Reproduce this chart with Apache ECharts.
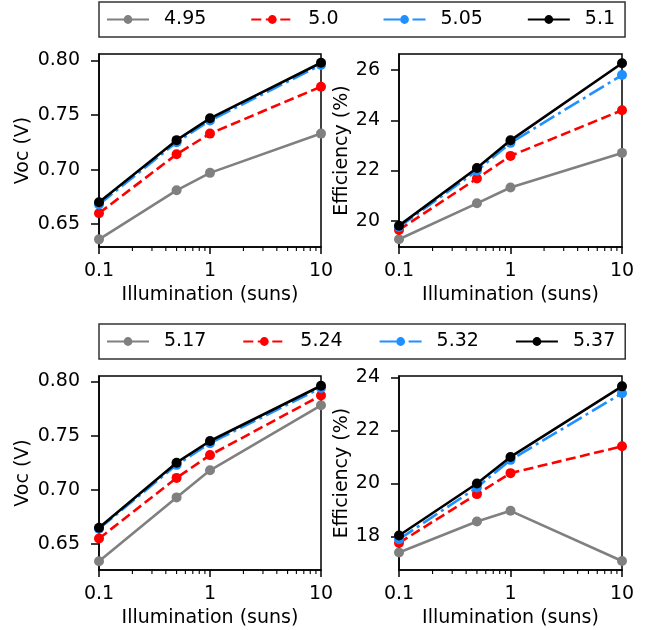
<!DOCTYPE html>
<html>
<head>
<meta charset="utf-8">
<script src="https://cdn.jsdelivr.net/npm/echarts@6/dist/echarts.min.js"></script>
<style>
  html, body { margin: 0; padding: 0; background: #fff; }
  #chart { width: 647px; height: 630px; }
</style>
</head>
<body>
<div id="chart"></div>
<script>
// Illumination levels (suns)
const illumination = [0.1, 0.5, 1, 10];

// Upper group
const topNames = ['4.95', '5.0', '5.05', '5.1'];
const topVoc = [
  [0.636, 0.681, 0.697, 0.733],
  [0.660, 0.714, 0.733, 0.776],
  [0.668, 0.725, 0.745, 0.796],
  [0.670, 0.727, 0.747, 0.798]
];
const topEff = [
  [19.26, 20.69, 21.32, 22.70],
  [19.63, 21.68, 22.58, 24.40],
  [19.75, 21.99, 23.10, 25.80],
  [19.80, 22.10, 23.20, 26.27]
];

// Lower group
const bottomNames = ['5.17', '5.24', '5.32', '5.37'];
const bottomVoc = [
  [0.634, 0.693, 0.718, 0.778],
  [0.655, 0.711, 0.732, 0.787],
  [0.664, 0.723, 0.743, 0.794],
  [0.665, 0.725, 0.745, 0.796]
];
const bottomEff = [
  [17.40, 18.57, 18.97, 17.08],
  [17.76, 19.60, 20.39, 21.40],
  [17.90, 19.85, 20.89, 23.40],
  [18.04, 20.00, 21.00, 23.66]
];

// Axis ticks
const vocTicks = [0.65, 0.70, 0.75, 0.80];
const effTicksTop = [20, 22, 24, 26];
const effTicksBottom = [18, 20, 22, 24];
const minorTicks = [0.2, 0.3, 0.4, 0.5, 0.6, 0.7, 0.8, 0.9, 2, 3, 4, 5, 6, 7, 8, 9];

const FONT = 'DejaVu Sans';
const FS = 19;

const lineStyles = [
  { color: '#808080', type: 'solid' },
  { color: '#ff0000', type: [10, 4.5] },
  { color: '#1e90ff', type: [17, 4.5, 3, 4.5] },
  { color: '#000000', type: 'solid' }
];

const panels = [
  { left: 99, top: 54, width: 222, height: 193, min: 0.629, max: 0.806, ticks: vocTicks, dec: 2, name: 'Voc (V)', gap: 66, names: topNames, values: topVoc },
  { left: 399, top: 54, width: 223, height: 193, min: 18.95, max: 26.64, ticks: effTicksTop, dec: 0, name: 'Efficiency (%)', gap: 47, names: topNames, values: topEff },
  { left: 99, top: 376, width: 222, height: 194, min: 0.626, max: 0.805, ticks: vocTicks, dec: 2, name: 'Voc (V)', gap: 66, names: bottomNames, values: bottomVoc },
  { left: 399, top: 376, width: 223, height: 194, min: 16.74, max: 24.05, ticks: effTicksBottom, dec: 0, name: 'Efficiency (%)', gap: 47, names: bottomNames, values: bottomEff }
];

const grid = [], xAxis = [], yAxis = [], series = [];

panels.forEach((p, i) => {
  grid.push({
    left: p.left, top: p.top, width: p.width, height: p.height,
    show: true, borderColor: '#000', borderWidth: 1.5, backgroundColor: 'transparent'
  });
  xAxis.push({
    type: 'log', logBase: 10, gridIndex: i, min: 0.1, max: 10,
    name: 'Illumination (suns)', nameLocation: 'middle', nameGap: 39,
    nameTextStyle: { fontFamily: FONT, fontSize: FS, color: '#000' },
    axisLine: { show: true, lineStyle: { color: '#000', width: 1.5 } },
    axisTick: { show: true, inside: false, length: 7, lineStyle: { color: '#000', width: 1.5 } },
    axisLabel: {
      fontFamily: FONT, fontSize: FS, color: '#000', margin: 15,
      formatter: v => (v < 1 ? String(v) : String(Math.round(v)))
    },
    splitLine: { show: false }
  });
  yAxis.push({
    type: 'value', gridIndex: i, min: p.min, max: p.max,
    name: p.name, nameLocation: 'middle', nameGap: p.gap, nameRotate: 90,
    nameTextStyle: { fontFamily: FONT, fontSize: FS, color: '#000' },
    axisLine: { show: true, lineStyle: { color: '#000', width: 1.5 } },
    axisTick: { show: true, inside: false, length: 8, customValues: p.ticks, lineStyle: { color: '#000', width: 1.5 } },
    axisLabel: {
      fontFamily: FONT, fontSize: FS, color: '#000', margin: 19,
      customValues: p.ticks,
      formatter: v => v.toFixed(p.dec)
    },
    splitLine: { show: false }
  });

  p.names.forEach((nm, k) => {
    series.push({
      type: 'line', name: nm, xAxisIndex: i, yAxisIndex: i,
      data: illumination.map((x, j) => [x, p.values[k][j]]),
      symbol: 'circle', symbolSize: 10, showSymbol: true,
      lineStyle: { color: lineStyles[k].color, width: 2.6, type: lineStyles[k].type },
      itemStyle: { color: lineStyles[k].color },
      emphasis: { disabled: true },
      z: 3 + k, animation: false
    });
  });

  // Minor ticks of the log axis (2..9 within each decade)
  series.push({
    type: 'custom', xAxisIndex: i, yAxisIndex: i, silent: true, clip: false,
    data: minorTicks.map(v => [v, p.min]),
    renderItem: (params, api) => {
      const pt = api.coord([api.value(0), api.value(1)]);
      const cs = params.coordSys;
      const yb = cs.y + cs.height;
      return {
        type: 'line',
        shape: { x1: pt[0], y1: yb, x2: pt[0], y2: yb + 4 },
        style: { stroke: '#000', lineWidth: 1.1 }
      };
    },
    animation: false
  });
});

const legendBase = {
  left: 99, orient: 'horizontal', width: 560,
  itemWidth: 42, itemHeight: 11,
  borderColor: '#333', borderWidth: 1.5, borderRadius: 0,
  padding: [8, 10, 8, 7],
  textStyle: { fontFamily: FONT, fontSize: FS, color: '#000', padding: [0, 0, 0, 10] },
  selectedMode: false
};

const option = {
  backgroundColor: '#fff',
  animation: false,
  legend: [
    Object.assign({}, legendBase, { top: 2, itemGap: 44, data: topNames }),
    Object.assign({}, legendBase, { top: 324, itemGap: 36, data: bottomNames })
  ],
  grid, xAxis, yAxis, series
};

const chart = echarts.init(document.getElementById('chart'), null, { renderer: 'canvas' });
chart.setOption(option);
</script>
</body>
</html>
